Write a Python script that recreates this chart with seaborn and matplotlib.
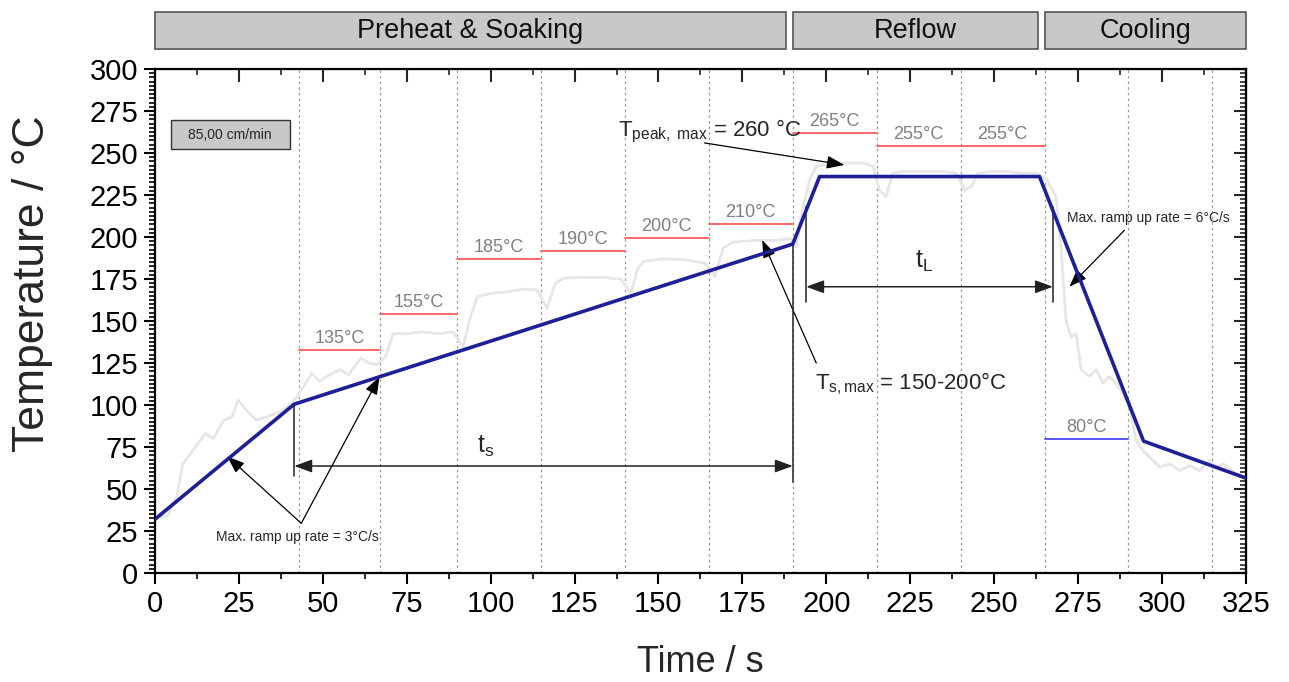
import numpy as np
import pandas as pd
import matplotlib
matplotlib.use("Agg")
import matplotlib.pyplot as plt
import matplotlib.transforms as mtransforms
from matplotlib.patches import Rectangle
from matplotlib.ticker import MultipleLocator
import seaborn as sns

# --- values ---
# ideal reflow profile (blue line)
profile_time = [0, 41.5, 190, 198, 263.5, 294.5, 325]
profile_temp = [32, 100.5, 195.8, 236, 236, 78.5, 56.5]

# measured oven curve (light grey trace)
measured_time = [2, 4, 6.5, 8.3, 11.3, 15, 17.4, 20.5, 23, 24.8,
                 27.2, 30.2, 33.3, 36.3, 38.8, 41.2, 44.3, 46.7, 49, 52,
                 55.2, 57.7, 61.3, 63.8, 66.2, 68.7, 71, 74.8, 79.6, 84.5,
                 88.8, 91.8, 93.7, 96, 100.4, 105.2, 110, 113.8, 116.8, 119.3,
                 121.7, 127.2, 133.3, 138.8, 141.8, 143.7, 145.5, 151.6, 157.7, 163.8,
                 166.8, 169.3, 172.3, 178.4, 184.5, 189.4, 191, 192.2, 195, 197,
                 202, 207, 211, 214, 215.8, 217.8, 219.8, 222.8, 228.8, 234.7,
                 238.7, 241.2, 243.2, 245.2, 248.7, 253.7, 258.7, 262.7, 265.7, 268.4,
                 269.9, 271.4, 272.9, 274.4, 275.9, 278.4, 280.4, 282.4, 284.3, 286.3,
                 288.3, 290.3, 292.3, 294.3, 297.3, 299.3, 302.3, 305.3, 308.3, 311.2,
                 314.2, 316.2, 318.2, 322.2, 325]
measured_temp = [33, 34.5, 45.5, 65, 73, 83, 80, 91, 93, 103,
                 97, 91, 93, 95, 98, 102, 111, 119, 114, 118,
                 121, 118, 128, 125, 124, 129, 142.5, 142.5, 143.5, 142.5,
                 143.5, 134.5, 150.5, 164.5, 166.5, 167.5, 169, 168.5, 157.5, 172.5,
                 175.5, 176, 176, 175, 166.5, 180.5, 185.5, 187, 186.5, 184.5,
                 176.5, 193.5, 197, 198, 198, 199, 194, 210, 234, 242,
                 244, 244, 244, 242, 228, 224, 238, 239, 239, 239,
                 238, 228, 230, 238, 239, 239, 238, 238, 234, 224,
                 194, 150.5, 140.5, 142.5, 121, 117, 121, 113, 117, 113,
                 107, 99, 79, 73, 67, 63, 65, 61, 64, 61,
                 67, 63, 65, 59, 57]

# oven zone borders and set points
zone_edges = [43, 67, 90, 115, 140, 165, 190, 215, 240, 265, 290, 315]
zone_labels = ["135°C", "155°C", "185°C", "190°C", "200°C", "210°C",
               "265°C", "255°C", "255°C", "80°C"]
zone_levels = [133, 154, 187, 191.5, 199.5, 208, 262, 254, 254, 80]

phase_names = ["Preheat & Soaking", "Reflow", "Cooling"]
phase_start = [0, 190, 265]
phase_end = [188, 263, 325]

# --- style ---
sns.set_style("ticks")
plt.rcParams['font.family'] = ['Liberation Sans', 'DejaVu Sans']
plt.rcParams['mathtext.fontset'] = 'custom'
plt.rcParams['mathtext.rm'] = 'Liberation Sans'
plt.rcParams['mathtext.it'] = 'Liberation Sans'

fig = plt.figure(figsize=(12.89, 6.82), dpi=100)
ax = fig.add_axes([0.1202, 0.1598, 0.9666 - 0.1202, 0.8988 - 0.1598])

profile = pd.DataFrame({'time': profile_time, 'temp': profile_temp})
measured = pd.DataFrame({'time': measured_time, 'temp': measured_temp})

# zone borders
for x in zone_edges:
    ax.axvline(x, color='#9a9a9a', lw=0.9, ls=(0, (2, 2.5)), zorder=1)

sns.lineplot(data=measured, x='time', y='temp', ax=ax, color='#e6e6e6',
             lw=2.0, sort=False, estimator=None, zorder=2)

# set points
for i, (lab, lev) in enumerate(zip(zone_labels, zone_levels)):
    x0, x1 = zone_edges[i], zone_edges[i + 1]
    col = '#4a4aff' if i == len(zone_levels) - 1 else '#ff5a5a'
    ax.plot([x0, x1], [lev, lev], color=col, lw=1.3, zorder=3)
    ax.text((x0 + x1) / 2, lev + 1.8, lab, ha='center', va='bottom',
            fontsize=13, color='#808080', zorder=3)

sns.lineplot(data=profile, x='time', y='temp', ax=ax, color='#1f1f96',
             lw=2.6, sort=False, estimator=None, zorder=5)

# dimension lines t_s and t_L
dim = dict(color='#333333', lw=1.2, zorder=4)
ax.plot([41.5, 41.5], [100.5, 58], **dim)
ax.plot([190, 190], [195.8, 54], **dim)
ax.plot([194, 194], [218, 161.5], **dim)
ax.plot([267.5, 267.5], [218, 161.5], **dim)

dbl = dict(arrowstyle='<|-|>,head_length=0.6,head_width=0.22', color='#222222',
           lw=1.1, mutation_scale=18, shrinkA=0, shrinkB=0)
ax.annotate('', xy=(190, 63.7), xytext=(41.5, 63.7), arrowprops=dbl)
ax.annotate('', xy=(267.5, 170.4), xytext=(194, 170.4), arrowprops=dbl)
ax.text(98.5, 68, r'$\mathregular{t_s}$', fontsize=18, ha='center', va='bottom')
ax.text(229, 178, r'$\mathregular{t_L}$', fontsize=18, ha='center', va='bottom')

one = dict(arrowstyle='-|>,head_length=0.6,head_width=0.22', color='black',
           lw=0.9, mutation_scale=18, shrinkA=0, shrinkB=0)
# ramp up 3 C/s
ax.annotate('', xy=(21.5, 69.5), xytext=(43.6, 29.6), arrowprops=one)
ax.annotate('', xy=(66.9, 116.8), xytext=(43.6, 29.6), arrowprops=one)
ax.text(42.5, 21.5, 'Max. ramp up rate = 3°C/s', fontsize=10, ha='center', va='center')

# ramp 6 C/s
ax.annotate('', xy=(272.4, 170.4), xytext=(288.8, 204), arrowprops=one)
ax.text(296, 211.3, 'Max. ramp up rate = 6°C/s', fontsize=10, ha='center', va='center')

# T peak
ax.annotate('', xy=(205.4, 242.9), xytext=(163.7, 256), arrowprops=one)
ax.text(137.8, 260, r'$\mathregular{T_{peak,\ max}}$ = 260 °C', fontsize=16,
        ha='left', va='baseline')

# T s,max
ax.annotate('', xy=(180.9, 198.2), xytext=(197, 125), arrowprops=one)
ax.text(196.5, 109.5, r'$\mathregular{T_{s,max}}$ = 150-200°C', fontsize=16,
        ha='left', va='baseline')

# conveyor speed box
ax.add_patch(Rectangle((4.7, 252.5), 35.4, 17.1, facecolor='#c8c8c8',
                       edgecolor='#333333', lw=1.0, zorder=4))
ax.text(22.4, 261, '85,00 cm/min', fontsize=10, ha='center', va='center', zorder=5)

# phase headers above the axes
trans = mtransforms.blended_transform_factory(ax.transData, fig.transFigure)
for name, x0, x1 in zip(phase_names, phase_start, phase_end):
    ax.add_patch(Rectangle((x0, 0.9282), x1 - x0, 0.0542, transform=trans,
                           facecolor='#c8c8c8', edgecolor='#555555', lw=1.2,
                           clip_on=False))
    ax.text((x0 + x1) / 2, 0.954, name, transform=trans, ha='center',
            va='center', fontsize=19.5, color='#111111')

# axes
ax.set_xlim(0, 325)
ax.set_ylim(0, 300)
ax.set_xlabel('Time / s', fontsize=26, labelpad=20)
ax.set_ylabel('Temperature / °C', fontsize=32)
ax.yaxis.set_label_coords(-0.093, 0.575)
ax.xaxis.set_major_locator(MultipleLocator(25))
ax.xaxis.set_minor_locator(MultipleLocator(12.5))
ax.yaxis.set_major_locator(MultipleLocator(25))
ax.yaxis.set_minor_locator(MultipleLocator(2.5))
ax.tick_params(which='major', direction='out', length=8, width=1.5,
               labelsize=21, pad=4, color='black', labelcolor='black')
ax.tick_params(which='minor', direction='out', length=4, width=1.2, color='black')
for s in ax.spines.values():
    s.set_linewidth(1.6)
    s.set_color('black')

secx = ax.secondary_xaxis('top')
secx.xaxis.set_major_locator(MultipleLocator(25))
secx.xaxis.set_minor_locator(MultipleLocator(12.5))
secx.tick_params(which='major', direction='in', length=9, width=1.5, labeltop=False)
secx.tick_params(which='minor', direction='in', length=4.5, width=1.2)
secy = ax.secondary_yaxis('right')
secy.yaxis.set_major_locator(MultipleLocator(25))
secy.yaxis.set_minor_locator(MultipleLocator(2.5))
secy.tick_params(which='major', direction='in', length=9, width=1.5, labelright=False)
secy.tick_params(which='minor', direction='in', length=4.5, width=1.2)

fig.savefig('out.png', dpi=100)
